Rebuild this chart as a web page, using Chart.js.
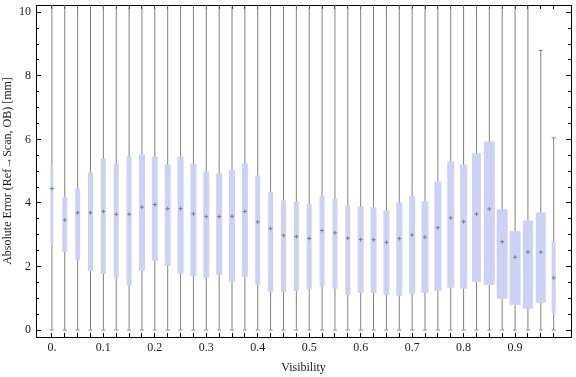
<!DOCTYPE html>
<html>
<head>
<meta charset="utf-8">
<script src="https://cdn.jsdelivr.net/npm/chart.js@4.4.0/dist/chart.umd.min.js"></script>
<style>
  html, body { margin: 0; padding: 0; background: #fff; }
</style>
</head>
<body>
<canvas id="boxChart" width="576" height="377"></canvas>
<script>
// visibility bins (x positions of the boxes)
const visibility = [0, 0.025, 0.05, 0.075, 0.1, 0.125, 0.15, 0.175, 0.2, 0.225,
  0.25, 0.275, 0.3, 0.325, 0.35, 0.375, 0.4, 0.425, 0.45, 0.475,
  0.5, 0.525, 0.55, 0.575, 0.6, 0.625, 0.65, 0.675, 0.7, 0.725,
  0.75, 0.775, 0.8, 0.825, 0.85, 0.875, 0.9, 0.925, 0.95, 0.975];

// box statistics [mm]
const q1 = [2.72, 2.46, 2.21, 1.86, 1.77, 1.64, 1.42, 1.86, 2.18, 2.02,
  1.77, 1.70, 1.64, 1.74, 1.52, 1.67, 1.42, 1.20, 1.20, 1.23,
  1.28, 1.39, 1.30, 1.11, 1.17, 1.17, 1.11, 1.08, 1.14, 1.17,
  1.23, 1.33, 1.30, 1.52, 1.42, 0.98, 0.79, 0.67, 0.86, 0.51];
const median = [4.45, 3.46, 3.69, 3.69, 3.73, 3.64, 3.64, 3.87, 3.95, 3.82,
  3.82, 3.66, 3.57, 3.57, 3.58, 3.73, 3.40, 3.19, 2.98, 2.94,
  2.88, 3.13, 3.06, 2.89, 2.85, 2.84, 2.76, 2.88, 2.99, 2.92,
  3.22, 3.53, 3.41, 3.65, 3.81, 2.78, 2.29, 2.45, 2.45, 1.64];
const q3 = [5.18, 4.18, 4.45, 4.96, 5.40, 5.24, 5.46, 5.53, 5.46, 5.21,
  5.46, 5.24, 4.99, 4.93, 5.05, 5.24, 4.87, 4.33, 4.08, 4.04,
  3.98, 4.24, 4.14, 3.92, 3.89, 3.86, 3.77, 4.02, 4.21, 4.05,
  4.68, 5.31, 5.21, 5.56, 5.93, 3.80, 3.11, 3.45, 3.70, 2.79];
const whiskerLow = [0, 0, 0, 0, 0, 0, 0, 0, 0, 0,
  0, 0, 0, 0, 0, 0, 0, 0, 0, 0,
  0, 0, 0, 0, 0, 0, 0, 0, 0, 0,
  0, 0, 0, 0, 0, 0, 0, 0, 0, 0];
const whiskerHigh = [10.6, 10.6, 10.6, 10.6, 10.6, 10.6, 10.6, 10.6, 10.6, 10.6,
  10.6, 10.6, 10.6, 10.6, 10.6, 10.6, 10.6, 10.6, 10.6, 10.6,
  10.6, 10.6, 10.6, 10.6, 10.6, 10.6, 10.6, 10.6, 10.6, 10.6,
  10.6, 10.6, 10.6, 10.6, 10.6, 10.6, 10.6, 10.6, 8.8, 6.05];

const yMajor = [0, 2, 4, 6, 8, 10];
const yMinor = [0, 0.5, 1, 1.5, 2, 2.5, 3, 3.5, 4, 4.5, 5, 5.5, 6, 6.5, 7, 7.5, 8, 8.5, 9, 9.5, 10];

// drawn box widths in px (style only)
const boxWidths = [3, 5, 5, 5, 5, 5, 5, 6, 6, 6, 6, 6, 6, 6, 6, 6, 5, 5, 5, 5,
  5, 5, 5, 5, 6, 6, 6, 6, 6, 7, 7, 7, 7, 9, 11, 11, 11, 10, 10, 4];

const boxColor = 'rgb(204,210,246)';
const whiskerColor = 'rgb(128,128,128)';
const textColor = '#1a1a1a';
const serif = { family: "'Liberation Serif', 'DejaVu Serif', serif", size: 12 };

const X_MIN = -0.0309, X_MAX = 1.0087;
const Y_MIN = -0.22, Y_MAX = 10.229;

// one bar dataset per box width, so each box keeps its own thickness
const datasets = [];
datasets.push({
  type: 'bar',
  data: visibility.map((v, i) => ({ x: v, y: [whiskerLow[i], whiskerHigh[i]] })),
  backgroundColor: whiskerColor,
  barThickness: 1,
  grouped: false,
  inflateAmount: 0,
  order: 3
});
[...new Set(boxWidths)].forEach(w => {
  datasets.push({
    type: 'bar',
    data: visibility.map((v, i) => ({ x: v, y: boxWidths[i] === w ? [q1[i], q3[i]] : null })),
    backgroundColor: boxColor,
    barThickness: w,
    grouped: false,
    inflateAmount: 0,
    order: 2
  });
});
datasets.push({
  type: 'scatter',
  data: visibility.map((v, i) => ({ x: v, y: median[i] })),
  pointStyle: 'cross',
  pointRadius: 2,
  borderWidth: 1,
  borderColor: 'rgb(125,125,135)',
  order: 1
});
datasets.push({
  type: 'scatter',
  data: visibility.map((v, i) => ({ x: v, y: whiskerLow[i] }))
    .concat(visibility.map((v, i) => ({ x: v, y: whiskerHigh[i] }))),
  pointStyle: 'line',
  pointRadius: 2,
  borderWidth: 1,
  borderColor: whiskerColor,
  order: 1
});

const tickSet = arr => scale => { scale.ticks = arr.map(v => ({ value: v })); };
// fixed axis sizes, and no extra label padding pushed onto the chart area
const fixSize = (w, h) => s => {
  if (w !== null) s.width = w;
  if (h !== null) s.height = h;
  s.paddingLeft = s.paddingRight = s.paddingTop = s.paddingBottom = 0;
};

const ctx = document.getElementById('boxChart').getContext('2d');
const chart = new Chart(ctx, {
  data: { datasets: datasets },
  options: {
    responsive: false,
    animation: false,
    layout: { padding: 0 },
    plugins: { legend: { display: false }, tooltip: { enabled: false } },
    scales: {
      x: {
        type: 'linear', position: 'bottom', min: X_MIN, max: X_MAX, offset: false,
        afterBuildTicks: tickSet(visibility),
        afterFit: fixSize(null, 40),
        ticks: {
          autoSkip: false, maxRotation: 0, padding: 8, color: textColor, font: serif,
          callback: v => {
            const k = Math.round(v * 40);
            if (k % 4 !== 0) return '';
            return k === 0 ? '0.' : (k / 40).toFixed(1);
          }
        },
        grid: { offset: false, drawOnChartArea: false, tickLength: -4, tickColor: '#000' },
        border: { color: '#000', width: 1 },
        title: { display: true, text: 'Visibility', color: textColor, font: serif, padding: { top: 0, bottom: 2 } }
      },
      x2: {
        type: 'linear', position: 'top', min: X_MIN, max: X_MAX, offset: false,
        afterBuildTicks: tickSet(visibility),
        afterFit: fixSize(null, 4),
        ticks: { display: false },
        grid: { offset: false, drawOnChartArea: false, tickLength: -4, tickColor: '#000' },
        border: { color: '#000', width: 1 }
      },
      y: {
        type: 'linear', position: 'left', min: Y_MIN, max: Y_MAX, weight: 1,
        afterBuildTicks: tickSet(yMajor),
        afterFit: fixSize(36, null),
        ticks: { padding: 10, color: textColor, font: serif, callback: v => String(v) },
        grid: { drawOnChartArea: false, tickLength: -5, tickColor: '#000' },
        border: { color: '#000', width: 1 },
        title: { display: true, text: 'Absolute Error (Ref→Scan, OB) [mm]', color: textColor, font: serif, padding: { top: 1, bottom: 0 } }
      },
      yMinor: {
        type: 'linear', position: 'left', min: Y_MIN, max: Y_MAX, weight: 0,
        afterBuildTicks: tickSet(yMinor),
        afterFit: fixSize(0, null),
        ticks: { display: false },
        grid: { drawOnChartArea: false, tickLength: -3, tickColor: '#000' },
        border: { display: false }
      },
      y2: {
        type: 'linear', position: 'right', min: Y_MIN, max: Y_MAX, weight: 1,
        afterBuildTicks: tickSet(yMajor),
        afterFit: fixSize(1, null),
        ticks: { display: false },
        grid: { drawOnChartArea: false, tickLength: -5, tickColor: '#000' },
        border: { color: '#000', width: 1 }
      },
      y2Minor: {
        type: 'linear', position: 'right', min: Y_MIN, max: Y_MAX, weight: 0,
        afterBuildTicks: tickSet(yMinor),
        afterFit: fixSize(0, null),
        ticks: { display: false },
        grid: { drawOnChartArea: false, tickLength: -3, tickColor: '#000' },
        border: { display: false }
      }
    }
  }
});
</script>
</body>
</html>
